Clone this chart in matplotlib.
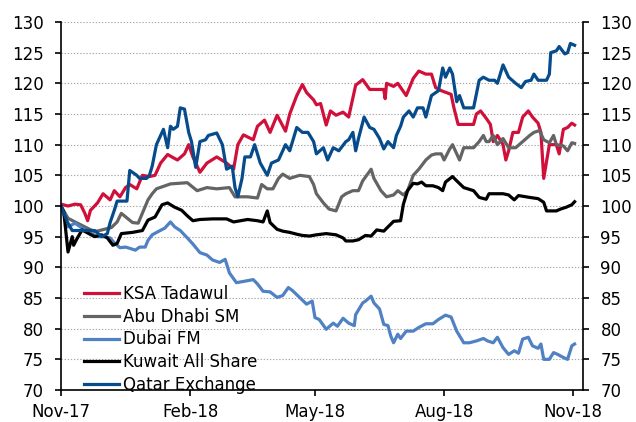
import numpy as np
import pandas as pd
import matplotlib
matplotlib.use("Agg")
import matplotlib.pyplot as plt

# days since 1 Nov 2017, index level (1 Nov 2017 = 100)
ksa_days = [0, 5, 10, 14, 17, 19, 21, 26, 30, 35, 38, 42, 46, 49, 54, 58, 63, 67, 71, 76, 79, 83,
            88, 91, 94, 99, 104, 111, 118, 123, 126, 130, 137, 140, 145, 149, 154, 160, 163, 168,
            172, 175, 180, 182, 185, 189, 192, 196, 201, 205, 210, 215, 220, 230, 231, 232, 237,
            240, 246, 251, 255, 260, 264, 267, 271, 278, 280, 283, 294, 296, 299, 303, 306, 308,
            311, 315, 317, 319, 322, 326, 329, 333, 336, 340, 342, 344, 348, 353, 355, 358, 361,
            364, 366]
ksa_vals = [100.3, 100.0, 100.3, 100.2, 98.8, 97.6, 99.3, 100.5, 102, 101, 102.5, 101.5, 103,
            103.5, 102.8, 105, 104.8, 105, 107, 108.4, 108, 107.5, 108.5, 110, 108, 105.5, 107,
            108, 107, 106, 110, 111.6, 110.8, 113, 114, 112, 114.8, 112.2, 115, 118, 119.8, 118.5,
            117.3, 116.5, 116.7, 113.2, 115.5, 114.8, 115.3, 114.5, 119.7, 120.6, 119, 119, 117.5,
            120, 119.5, 120, 118, 120.8, 122, 121.5, 121.5, 119.3, 118.8, 118.2, 116, 113.3,
            113.3, 115, 115.5, 114.3, 113.3, 110.5, 111.5, 110, 107.5, 109, 112, 112, 114.5,
            115.5, 114.5, 113.5, 112, 104.5, 110, 110, 108.5, 112.5, 112.8, 113.5, 113.2]

adx_days = [0, 5, 10, 17, 24, 36, 40, 43, 51, 55, 62, 65, 68, 78, 90, 97, 104, 111, 120, 124,
            133, 140, 143, 147, 151, 155, 158, 163, 170, 177, 180, 182, 187, 191, 196, 200, 203,
            208, 212, 215, 221, 223, 228, 232, 237, 240, 244, 247, 251, 255, 260, 264, 267, 271,
            273, 277, 279, 282, 284, 287, 294, 298, 301, 303, 305, 308, 311, 315, 319, 324, 329,
            334, 337, 341, 344, 348, 351, 353, 358, 361, 364, 366]
adx_vals = [100, 98, 97.4, 96.6, 95.8, 96.5, 97.4, 98.8, 97.3, 97.2, 101, 102, 102.8, 103.6,
            103.8, 102.5, 103, 102.8, 103, 101.5, 101.5, 101.3, 103.5, 102.8, 102.8, 104.5, 105.2,
            104.5, 105, 104.8, 103.5, 102, 100.5, 99.5, 99.2, 101.5, 102, 102.5, 102.5, 104.1,
            106, 104.5, 102.5, 101.5, 101.8, 102.5, 101.8, 102.5, 105, 106, 107.5, 108.3, 108.5,
            108.5, 107.5, 109.3, 110, 108.5, 107.5, 109.5, 109.5, 110.5, 111.5, 110.5, 110.5,
            111.5, 110, 111, 109.5, 109.5, 110.5, 111.5, 112, 112.3, 110.8, 110.3, 111.5, 110,
            109.8, 109, 110.3, 110.2]

dfm_days = [0, 5, 10, 15, 19, 26, 31, 35, 38, 42, 46, 49, 53, 56, 60, 62, 65, 69, 74, 78, 81,
            85, 90, 94, 99, 104, 108, 113, 117, 120, 125, 130, 137, 140, 144, 149, 154, 158, 162,
            165, 170, 175, 179, 181, 184, 189, 194, 197, 201, 205, 209, 210, 215, 217, 221, 223,
            227, 230, 233, 235, 237, 240, 242, 246, 251, 255, 260, 265, 269, 274, 278, 282, 287,
            291, 296, 301, 304, 308, 311, 315, 319, 323, 326, 329, 333, 336, 340, 342, 344, 348,
            351, 354, 358, 361, 364, 366]
dfm_vals = [100, 96.6, 97.2, 96.4, 95.8, 95, 95, 94.8, 94, 93.2, 93.3, 93.1, 92.8, 93.3, 93.3,
            94.4, 95.3, 95.8, 96.4, 97.4, 96.6, 96, 94.8, 93.8, 92.4, 92, 91.2, 90.8, 91.3, 89.1,
            87.5, 87.7, 88, 87.3, 86.1, 86, 85.1, 85.4, 86.7, 86.2, 85.1, 84, 84.5, 81.8, 81.5,
            79.9, 80.9, 80.4, 81.7, 80.9, 80.5, 82.3, 84.2, 84.5, 85.3, 84.2, 83.2, 80.7, 80.5,
            78.8, 77.7, 79.1, 78.4, 79.6, 79.6, 80.2, 80.8, 80.8, 81.5, 82.2, 81.9, 79.6, 77.7,
            77.7, 78, 78.4, 78, 77.7, 78.6, 76.9, 75.8, 76.4, 76, 78.3, 78.6, 77.2, 76.8, 77.5,
            75, 75, 76.1, 75.8, 75.3, 75, 77.2, 77.5]

kwt_days = [0, 2, 5, 8, 9, 11, 15, 19, 24, 29, 33, 37, 40, 43, 51, 58, 62, 67, 72, 76, 81, 86,
            90, 94, 99, 108, 118, 123, 133, 140, 144, 147, 149, 154, 158, 163, 168, 172, 177, 182,
            189, 196, 201, 203, 208, 212, 217, 221, 225, 230, 237, 242, 244, 247, 251, 254, 257,
            260, 265, 269, 272, 274, 279, 282, 287, 294, 298, 303, 305, 315, 319, 323, 326, 334,
            340, 344, 346, 353, 356, 360, 364, 366]
kwt_vals = [100, 99, 92.5, 95, 93.6, 94.5, 96.1, 95.6, 95, 95.3, 94.8, 93.6, 93.9, 95.5, 95.7,
            96, 97.7, 98.2, 100.2, 100.5, 99.8, 99.3, 98.4, 97.6, 97.8, 97.9, 97.9, 97.4, 97.8,
            97.6, 97.4, 99.2, 97.3, 96.2, 95.9, 95.7, 95.4, 95.2, 95.1, 95.3, 95.5, 95.3, 94.8,
            94.3, 94.3, 94.5, 95.2, 95.1, 96.1, 95.9, 97.5, 97.6, 100.3, 102.5, 103.7, 103.6,
            103.9, 103.3, 103.3, 103, 102.5, 103.9, 104.8, 104.1, 103, 102.5, 101.4, 101.1, 102,
            102, 101.8, 101, 101.7, 101.4, 101.2, 100.6, 99.2, 99.2, 99.5, 99.8, 100.2, 100.7]

qat_days = [0, 5, 8, 15, 24, 29, 33, 35, 38, 40, 47, 49, 54, 56, 61, 63, 65, 68, 71, 73, 76, 78,
            80, 83, 85, 88, 91, 93, 96, 99, 103, 105, 111, 115, 118, 122, 124, 126, 129, 131, 135,
            138, 142, 147, 150, 155, 160, 163, 168, 172, 176, 180, 182, 187, 190, 194, 198, 203,
            205, 208, 210, 212, 216, 220, 223, 227, 230, 233, 237, 239, 242, 244, 248, 251, 254,
            258, 260, 264, 269, 272, 274, 277, 279, 282, 284, 287, 294, 298, 301, 305, 309, 311,
            315, 319, 324, 328, 331, 335, 337, 340, 346, 348, 349, 353, 355, 359, 361, 363, 366]
qat_vals = [100, 97.2, 96, 96, 96, 95, 95.5, 97.3, 99.3, 100.8, 100.8, 105.8, 105, 104.5, 104.5,
            105, 106.5, 110, 111.5, 112.5, 109.5, 113, 112.5, 113, 116, 115.8, 112, 110.5, 106.3,
            110.5, 110.8, 111.5, 111.9, 110, 106, 106.5, 103, 101.5, 104.5, 108, 108, 110, 107,
            105, 107, 107.5, 110, 109, 112.8, 112, 112, 110.5, 108.5, 109.5, 107.5, 109.5, 109,
            110.5, 110.8, 112, 109, 111, 114.5, 112.8, 112.5, 111, 109.3, 110.5, 109.5, 111.5, 113,
            114.5, 115.5, 114.5, 116, 116, 114.5, 118, 118.8, 122.5, 121, 122.5, 121.5, 117, 118,
            116, 116, 120.5, 121, 120.5, 120.5, 120, 123, 121, 120, 119.3, 120.3, 120.5, 121.5,
            120.5, 120.5, 121.5, 125, 125.3, 126, 124.8, 125, 126.5, 126.2]

series = [
    ("KSA Tadawul", ksa_days, ksa_vals, "#d0103a"),
    ("Abu Dhabi SM", adx_days, adx_vals, "#646464"),
    ("Dubai FM", dfm_days, dfm_vals, "#4f81c4"),
    ("Kuwait All Share", kwt_days, kwt_vals, "#000000"),
    ("Qatar Exchange", qat_days, qat_vals, "#064b8c"),
]
tick_labels = ["Nov-17", "Feb-18", "May-18", "Aug-18", "Nov-18"]
tick_dates = pd.to_datetime(["2017-11-01", "2018-02-01", "2018-05-01", "2018-08-01", "2018-11-01"])
start = pd.Timestamp("2017-11-01")

plt.rcParams["font.family"] = ["DejaVu Sans"]
fig = plt.figure(figsize=(6.36, 4.22), dpi=100)
ax = fig.add_axes([0.0959, 0.0758, 0.8208, 0.8721])

for name, days, vals, col in series:
    dates = start + pd.to_timedelta(np.array(days), unit="D")
    ax.plot(dates, vals, color=col, lw=2.3, label=name, solid_joinstyle="round")

ax.set_ylim(70, 130)
ax.set_yticks(np.arange(70, 131, 5))
ax.set_xlim(start, pd.Timestamp("2018-11-08"))
ax.set_xticks(tick_dates)
ax.set_xticklabels(tick_labels)

ax.grid(axis="y", linestyle=(0, (1.2, 1.6)), color="#a8a8a8", lw=0.8)
ax.set_axisbelow(True)
ax.spines["top"].set_visible(False)
for s in ["left", "right", "bottom"]:
    ax.spines[s].set_linewidth(1.2)
ax.tick_params(axis="both", direction="out", length=4.5, width=1.2, labelsize=12)
ax.tick_params(axis="y", right=True, labelright=True, pad=8)
ax.tick_params(axis="x", pad=5)

ax.legend(loc="lower left", bbox_to_anchor=(0.045, -0.01), frameon=False, fontsize=12,
          handlelength=2.1, handletextpad=0.2, labelspacing=0.28, borderpad=0,
          borderaxespad=0)

fig.savefig("out.png", dpi=100)
